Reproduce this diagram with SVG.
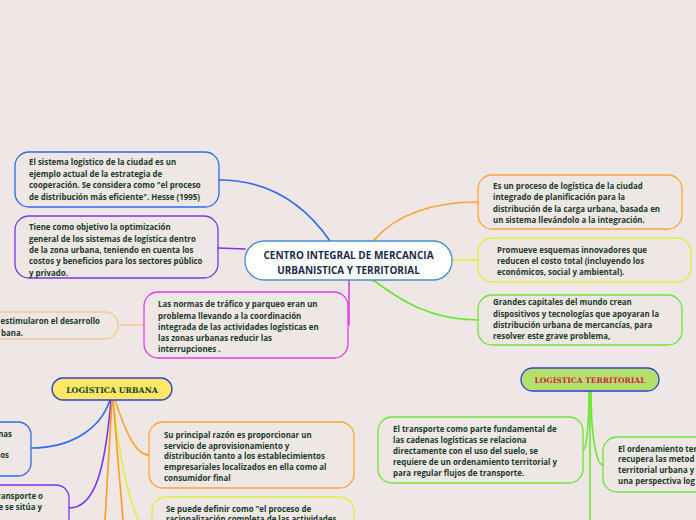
<svg xmlns="http://www.w3.org/2000/svg" width="696" height="520" viewBox="0 0 696 520">
<style>
.bg{fill:#EFE7E5}
.n{fill:none;stroke-width:1.3}
.t{font-family:"Open Sans","Noto Sans",sans-serif;font-weight:bold;font-size:7.9px;fill:#1A3A2A}
.c{fill:none;stroke-width:1.6;stroke-linecap:round}
.title{font-family:"Open Sans","Noto Sans",sans-serif;font-weight:bold;font-size:10px;fill:#1A2B4C;text-anchor:middle}
.slab{font-family:"DejaVu Serif",serif;font-weight:bold;text-anchor:middle}
</style>
<rect class="bg" x="0" y="0" width="696" height="520"/>
<g id="connectors">
<path class="c" stroke="#2F6BF0" d="M219,180 C270,180 305,205 330,241"/>
<path class="c" stroke="#7B35F0" d="M218,248 L245,249"/>
<path class="c" stroke="#FFA62E" d="M373,241 C400,210 440,202 478,202"/>
<path class="c" stroke="#D9F23A" d="M452,260 L478,260"/>
<path class="c" stroke="#6BE532" d="M373,280 C400,300 430,320 478,320"/>
<path class="c" stroke="#E43BE6" d="M349,280 L349,325"/>
<path class="c" stroke="#F7C992" d="M118,325 L144,325"/>
<path class="c" stroke="#2F6BF0" d="M110,400 C100,430 70,448 31,448"/>
<path class="c" stroke="#7B35F0" d="M111,400 C105,470 95,508 69,508"/>
<path class="c" stroke="#FFA62E" d="M115,400 C125,430 135,455 149,455"/>
<path class="c" stroke="#D9F23A" d="M113,400 C120,460 130,520 152,540"/>
<path class="c" stroke="#FF9A1E" stroke-width="2.2" d="M112,400 L105,520"/>
<path class="c" stroke="#FF9A1E" stroke-width="2.2" d="M113,400 L123,520"/>
<path class="c" stroke="#6BE532" stroke-width="2" d="M590,391 L590,520"/>
<path class="c" stroke="#6BE532" d="M589,391 C589,430 586,450 583,450"/>
<path class="c" stroke="#6BE532" d="M591,391 C591,440 597,465 603,465"/>
</g>
<g id="center">
<rect x="245" y="241" width="207" height="39" rx="19" fill="#FFFFFF" stroke="#4B8FCB" stroke-width="1.3"/>
<text class="title" x="348.5" y="258.5">CENTRO INTEGRAL DE MERCANCIA</text>
<text class="title" x="348.5" y="273.5">URBANISTICA Y TERRITORIAL</text>
</g>
<g id="node-sistema">
<rect class="n" x="15" y="152" width="204" height="55" rx="14" stroke="#2F6BF0"/>
<text class="t" x="29" y="165">El sistema logístico de la ciudad es un</text>
<text class="t" x="29" y="176.5">ejemplo actual de la estrategia de</text>
<text class="t" x="29" y="188">cooperación. Se considera como "el proceso</text>
<text class="t" x="29" y="199.5">de distribución más eficiente". Hesse (1995)</text>
</g>
<g id="node-objetivo">
<rect class="n" x="15" y="216" width="203" height="62" rx="14" stroke="#7B35F0"/>
<text class="t" x="29" y="230">Tiene como objetivo la optimización</text>
<text class="t" x="29" y="241.5">general de los sistemas de logística dentro</text>
<text class="t" x="29" y="253">de la zona urbana, teniendo en cuenta los</text>
<text class="t" x="29" y="264">costos y beneficios para los sectores público</text>
<text class="t" x="29" y="275.5">y privado.</text>
</g>
<g id="node-proceso">
<rect class="n" x="478" y="175" width="204" height="54" rx="14" stroke="#FFA62E"/>
<text class="t" x="493" y="189">Es un proceso de logística de la ciudad</text>
<text class="t" x="493" y="200">integrado de planificación para la</text>
<text class="t" x="493" y="211.5">distribución de la carga urbana, basada en</text>
<text class="t" x="493" y="223">un sistema llevándolo a la integración.</text>
</g>
<g id="node-promueve">
<rect class="n" x="478" y="238" width="213" height="44" rx="14" stroke="#D9F23A"/>
<text class="t" x="497" y="253">Promueve esquemas innovadores que</text>
<text class="t" x="497" y="263.5">reducen el costo total (incluyendo los</text>
<text class="t" x="497" y="274.5">económicos, social y ambiental).</text>
</g>
<g id="node-capitales">
<rect class="n" x="478" y="295" width="204" height="50" rx="14" stroke="#6BE532"/>
<text class="t" x="493" y="305">Grandes capitales del mundo crean</text>
<text class="t" x="493" y="316.5">dispositivos y tecnologías que apoyaran la</text>
<text class="t" x="493" y="327.5">distribución urbana de mercancías, para</text>
<text class="t" x="493" y="339">resolver este grave problema,</text>
</g>
<g id="node-normas">
<rect class="n" x="144" y="292" width="204" height="66" rx="14" stroke="#E43BE6"/>
<text class="t" x="158" y="307">Las normas de tráfico y parqueo eran un</text>
<text class="t" x="158" y="318.5">problema llevando a la coordinación</text>
<text class="t" x="158" y="330">integrada de las actividades logísticas en</text>
<text class="t" x="158" y="341">las zonas urbanas reducir las</text>
<text class="t" x="158" y="351.5">interrupciones .</text>
</g>
<g id="node-estimularon">
<rect class="n" x="-60" y="312" width="178" height="27" rx="13" stroke="#F7C992"/>
<text class="t" x="100" y="324" text-anchor="end">estimularon el desarrollo</text>
<text class="t" x="23" y="336" text-anchor="end">bana.</text>
</g>
<g id="node-logistica-urbana">
<rect x="52" y="378" width="120" height="22" rx="11" fill="#FFE866" stroke="#2F3FD8" stroke-width="1.3"/>
<text class="slab" x="112" y="392.5" font-size="7.8" fill="#123D2A">LOGÍSTICA URBANA</text>
</g>
<g id="node-urbana-azul">
<rect class="n" x="-60" y="422" width="91" height="54" rx="13" stroke="#2F6BF0"/>
<text class="t" x="12" y="437" text-anchor="end">nas</text>
<text class="t" x="9" y="458" text-anchor="end">os</text>
</g>
<g id="node-urbana-morada">
<rect class="n" x="-60" y="485" width="129" height="60" rx="13" stroke="#7B35F0"/>
<text class="t" x="43" y="499" text-anchor="end">ransporte o</text>
<text class="t" x="42" y="510" text-anchor="end">e se sitúa y</text>
</g>
<g id="node-principal">
<rect class="n" x="149" y="422" width="205" height="66" rx="14" stroke="#FFA62E"/>
<text class="t" x="164" y="438">Su principal razón es proporcionar un</text>
<text class="t" x="164" y="448.5">servicio de aprovisionamiento y</text>
<text class="t" x="164" y="459">distribución tanto a los establecimientos</text>
<text class="t" x="164" y="469.5">empresariales localizados en ella como al</text>
<text class="t" x="164" y="480.5">consumidor final</text>
</g>
<g id="node-definir">
<rect class="n" x="152" y="497" width="202" height="60" rx="14" stroke="#D9F23A"/>
<text class="t" x="166" y="511.5">Se puede definir como "el proceso de</text>
<text class="t" x="166" y="522">racionalización completa de las actividades</text>
</g>
<g id="node-logistica-territorial">
<rect x="521" y="368" width="138" height="23" rx="11.5" fill="#B3E06A" stroke="#2F3FD8" stroke-width="1.3"/>
<text class="slab" x="590" y="382.5" font-size="7.5" fill="#D8184C">LOGISTICA TERRITORIAL</text>
</g>
<g id="node-transporte">
<rect class="n" x="378" y="417" width="205" height="66" rx="14" stroke="#6BE532"/>
<text class="t" x="393" y="432">El transporte como parte fundamental de</text>
<text class="t" x="393" y="443">las cadenas logísticas se relaciona</text>
<text class="t" x="393" y="454">directamente con el uso del suelo, se</text>
<text class="t" x="393" y="465">requiere de un ordenamiento territorial y</text>
<text class="t" x="393" y="475.5">para regular flujos de transporte.</text>
</g>
<g id="node-ordenamiento">
<rect class="n" x="603" y="437" width="130" height="55" rx="14" stroke="#6BE532"/>
<text class="t" x="618" y="451.5">El ordenamiento ter</text>
<text class="t" x="618" y="462">recupera las metod</text>
<text class="t" x="618" y="473">territorial urbana y</text>
<text class="t" x="618" y="484">una perspectiva log</text>
</g>
</svg>
